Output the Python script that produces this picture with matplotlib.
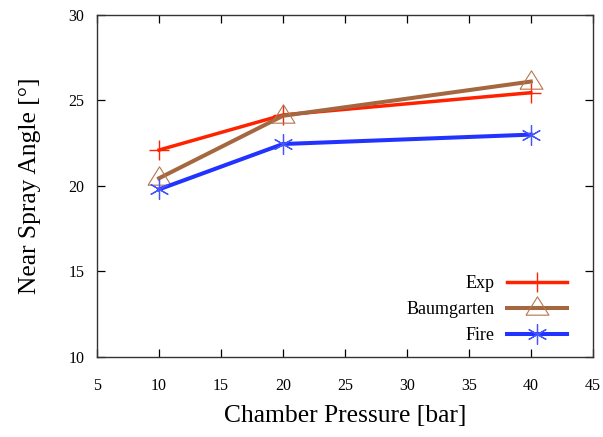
import matplotlib

matplotlib.use("Agg")
import matplotlib.pyplot as plt

# chamber pressure [bar] and near-nozzle spray angle [deg]
pressure = [10, 20, 40]
exp_angle = [22.1, 24.15, 25.45]
baumgarten_angle = [20.45, 24.1, 26.1]
fire_angle = [19.8, 22.45, 23.0]

x_ticks = [5, 10, 15, 20, 25, 30, 35, 40, 45]
y_ticks = [10, 15, 20, 25, 30]

plt.rcParams["font.family"] = ["Liberation Serif", "DejaVu Serif"]

# gnuplot-like open triangle, data point sits below the centroid
tri = [(-11.5, -6.7), (11.5, -6.7), (0.0, 11.7), (-11.5, -6.7)]

fig = plt.figure(figsize=(6.03, 4.37), dpi=100)
ax = fig.add_axes([0.161, 0.183, 0.822, 0.783])

ax.plot(pressure, exp_angle, "-", color="#ff2200", lw=2.5,
        marker="+", ms=14.5, mew=1.0, label="Exp")
ax.plot(pressure, baumgarten_angle, "-", color="#a5673f", lw=2.9,
        marker=tri, ms=16.8, mew=0.8, mfc="none", mec="#b5774f", label="Baumgarten")
ax.plot(pressure, fire_angle, "-", color="#2233ff", lw=2.9,
        marker=(6, 2, 0), ms=14.5, mew=0.9, mec="#4455ff", label="Fire")

ax.set_xlim(5, 45)
ax.set_ylim(10, 30)
ax.set_xticks(x_ticks)
ax.set_yticks(y_ticks)
ax.tick_params(direction="in", length=6, width=0.9, top=True, right=True,
               labelsize=11.5)
ax.tick_params(axis="x", pad=15)
ax.tick_params(axis="y", pad=9)
for s in ax.spines.values():
    s.set_linewidth(1.0)
    s.set_color("#333333")

ax.set_xlabel("Chamber Pressure [bar]", fontsize=18.4, labelpad=8)
ax.set_ylabel("Near Spray Angle [°]", fontsize=18.4, labelpad=20)

ax.legend(loc="lower right", bbox_to_anchor=(0.967, 0.012), frameon=False,
          markerfirst=False, fontsize=13, handlelength=3.33, handletextpad=0.72,
          labelspacing=0.5, borderpad=0)

fig.savefig("out.png", dpi=100)
